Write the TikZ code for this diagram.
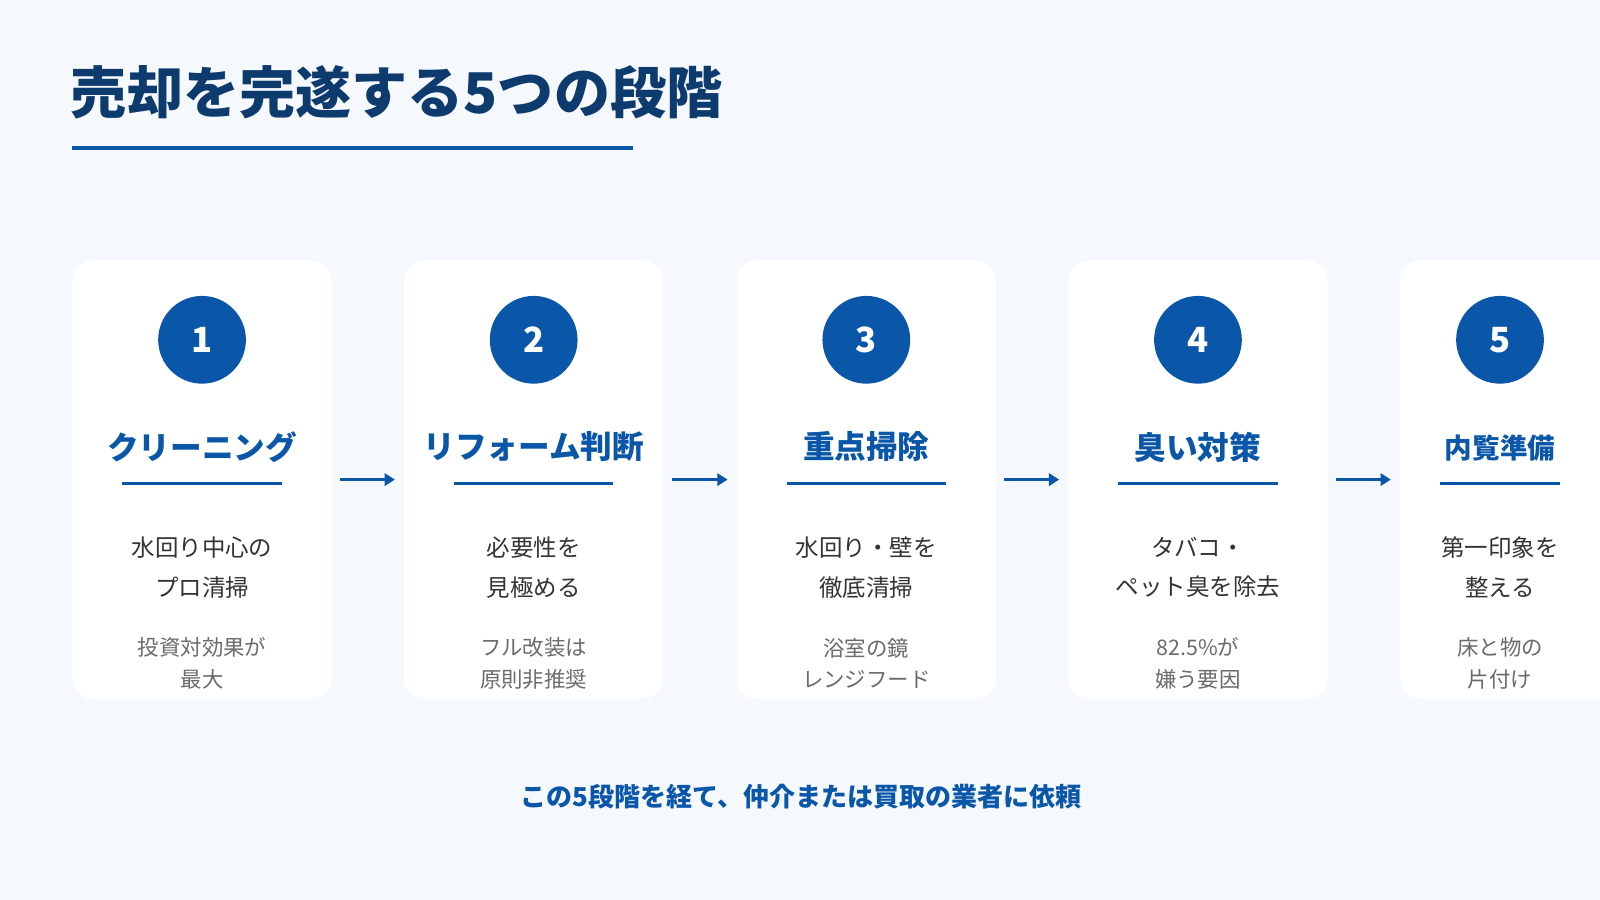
\documentclass[tikz,border=0pt]{standalone}
\usepackage{fontspec}
\setmainfont{Noto Sans CJK JP}
\usetikzlibrary{arrows.meta}
\definecolor{bg}{HTML}{F5F8FC}
\definecolor{blu}{HTML}{0A56A8}
\definecolor{navy}{HTML}{0D3B6E}
\definecolor{txt}{HTML}{333333}
\definecolor{sub}{HTML}{6B6B6B}
\tikzset{
 card/.style={fill=white,rounded corners=20pt,minimum width=254pt,minimum height=430pt,inner sep=0},
 num/.style={circle,fill=blu,minimum size=86pt,inner sep=0,text=white,font=\fontsize{34}{34}\selectfont\bfseries},
 ttl/.style={text=blu,font=\fontsize{31}{32}\selectfont\bfseries},
 uline/.style={draw=blu,line width=3pt},
 body/.style={text=txt,align=center,font=\fontsize{23}{39}\selectfont},
 note/.style={text=sub,align=center,font=\fontsize{21}{31}\selectfont},
 arr/.style={draw=blu,line width=3pt,-{Triangle[length=10pt,width=12pt]}}
}
\begin{document}
\begin{tikzpicture}[x=1pt,y=-1pt]
\clip (0,0) rectangle (1568,882);
\fill[bg] (0,0) rectangle (1568,882);
\node[anchor=west,text=navy,font=\fontsize{55}{58}\selectfont\bfseries] (title) at (66,90) {売却を完遂する5つの段階};
\draw[blu,line width=4pt] (71,145) coordinate (tl1) -- (620,145) coordinate (tl2);
\foreach \i/\x/\t/\a/\b/\c/\d in {
 1/198/クリーニング/水回り中心の/プロ清掃/投資対効果が/最大,
 2/523/リフォーム判断/必要性を/見極める/フル改装は/原則非推奨,
 3/849/重点掃除/水回り・壁を/徹底清掃/浴室の鏡/レンジフード,
 4/1174/臭い対策/タバコ・/ペット臭を除去/82.5\%が/嫌う要因,
 5/1470/内覧準備/第一印象を/整える/床と物の/片付け}{
 \ifnum\i=5
  \node[card] (c\i) at (1499,470) {};
 \else
  \node[card] (c\i) at (\x,470) {};
 \fi
 \node[num] (n\i) at (\x,333) {\i};
 \ifnum\i=5
  \node[ttl,font=\fontsize{27}{30}\selectfont\bfseries] (t\i) at (\x,439) {\t};
  \draw[uline] (\x-59,474) -- (\x+59,474);
 \else
  \node[ttl] (t\i) at (\x,438) {\t};
  \draw[uline] (\x-78,474) -- (\x+78,474);
 \fi
 \node[body] (b\i) at (\x,556) {\a\\\b};
 \node[note] (s\i) at (\x,650) {\c\\\d};
}
\foreach \i/\x in {1/360,2/686,3/1011,4/1336}{
 \coordinate (as\i) at (\x-27,470);
 \coordinate (ae\i) at (\x+27,470);
 \draw[arr] (as\i) -- (ae\i);
}
\node[text=blu,font=\fontsize{25.5}{27}\selectfont\bfseries] (foot) at (785,781) {この5段階を経て、仲介または買取の業者に依頼};
\end{tikzpicture}
\end{document}
